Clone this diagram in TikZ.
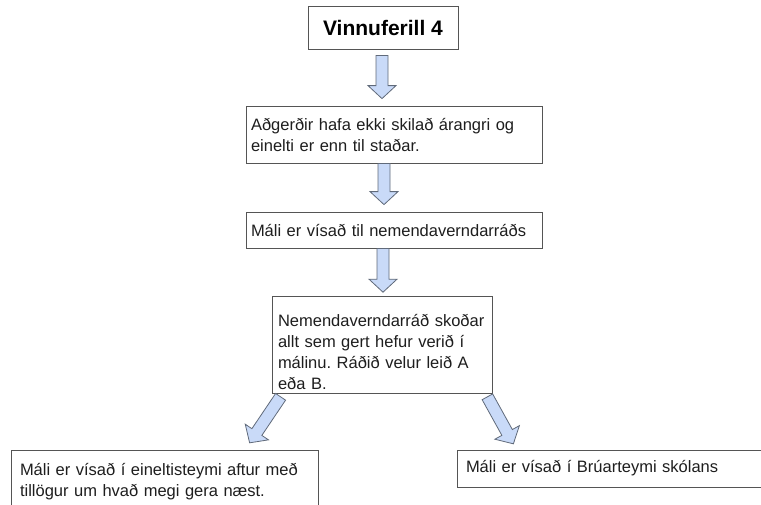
\documentclass[tikz,border=0pt]{standalone}
\usepackage{fontspec}
\setmainfont{Liberation Sans}
\usetikzlibrary{calc}
\definecolor{arrowfill}{RGB}{201,218,248}
\definecolor{arrowline}{RGB}{96,106,122}
\definecolor{boxline}{RGB}{85,85,85}
\definecolor{boxtext}{RGB}{30,30,30}
\frenchspacing

% block arrow from #1 to #2 (tip at #2)
\newcommand{\flowarrow}[2]{%
  \coordinate (fahead) at ($(#2)!13pt!(#1)$);
  \draw[flowarrow] ($(#1)!6pt!90:(#2)$) -- ($(fahead)!6pt!90:(#2)$) -- ($(fahead)!14pt!90:(#2)$) -- (#2)
    -- ($(fahead)!14pt!-90:(#2)$) -- ($(fahead)!6pt!-90:(#2)$) -- ($(#1)!6pt!-90:(#2)$) -- cycle;}

\begin{document}
\begin{tikzpicture}[x=1pt,y=-1pt,
  stepbox/.style={draw=boxline, line width=0.8pt, fill=white, text=boxtext, align=left,
    font=\fontsize{16.5}{21}\selectfont},
  flowarrow/.style={draw=arrowline, fill=arrowfill, line width=0.8pt, line join=miter}]

\useasboundingbox (0,0) rectangle (761,504);
\clip (0,0) rectangle (761,504);

\node [draw=boxline, line width=0.8pt, minimum width=150pt, minimum height=43pt,
  font=\fontsize{21}{25}\selectfont\bfseries] (title) at (383,27.5) {Vinnuferill 4};

\node [stepbox, inner xsep=5pt, text width=286pt, minimum height=57pt] (failed) at (394,134.5)
  {Aðgerðir hafa ekki skilað árangri og\\einelti er enn til staðar.};
\node [stepbox, inner xsep=5pt, text width=286pt, minimum height=36pt] (referred) at (394,230)
  {Máli er vísað til nemendaverndarráðs};
\node [stepbox, inner xsep=6pt, text width=208pt, minimum height=96pt] (council) at (382,345)
  {\rule{0pt}{27pt}Nemendaverndarráð skoðar\\allt sem gert hefur verið í\\málinu. Ráðið velur leið A\\eða B.}; % text sits low in the box

\node [stepbox, inner xsep=9pt, text width=289pt, minimum height=64pt] (teamA) at (164.5,482)
  {Máli er vísað í eineltisteymi aftur með\\tillögur um hvað megi gera næst.};
\node [stepbox, inner xsep=9pt, text width=302pt, minimum height=37pt] (teamB) at (617,468.5)
  {Máli er vísað í Brúarteymi skólans};

\coordinate (a1top) at ($(title.south)+(-1,6)$);
\coordinate (a1tip) at ($(title.south |- failed.north)+(-1,-7)$);
\coordinate (a2top) at ($(title.south |- failed.south)+(1,0)$);
\coordinate (a2tip) at ($(title.south |- referred.north)+(1,-7)$);
\coordinate (a3top) at (title.south |- referred.south);
\coordinate (a3tip) at ($(title.south |- council.north)+(0,-4)$);
\coordinate (leftTail) at ($(council.south west)+(9,3)$);
\coordinate (leftTip) at ($(council.south west)+(-22,49)$);
\coordinate (rightTail) at ($(council.south east)+(-5,3)$);
\coordinate (rightTip) at ($(council.south east)+(21,50)$);

\flowarrow{a1top}{a1tip}
\flowarrow{a2top}{a2tip}
\flowarrow{a3top}{a3tip}
\flowarrow{leftTail}{leftTip}
\flowarrow{rightTail}{rightTip}

\end{tikzpicture}
\end{document}
